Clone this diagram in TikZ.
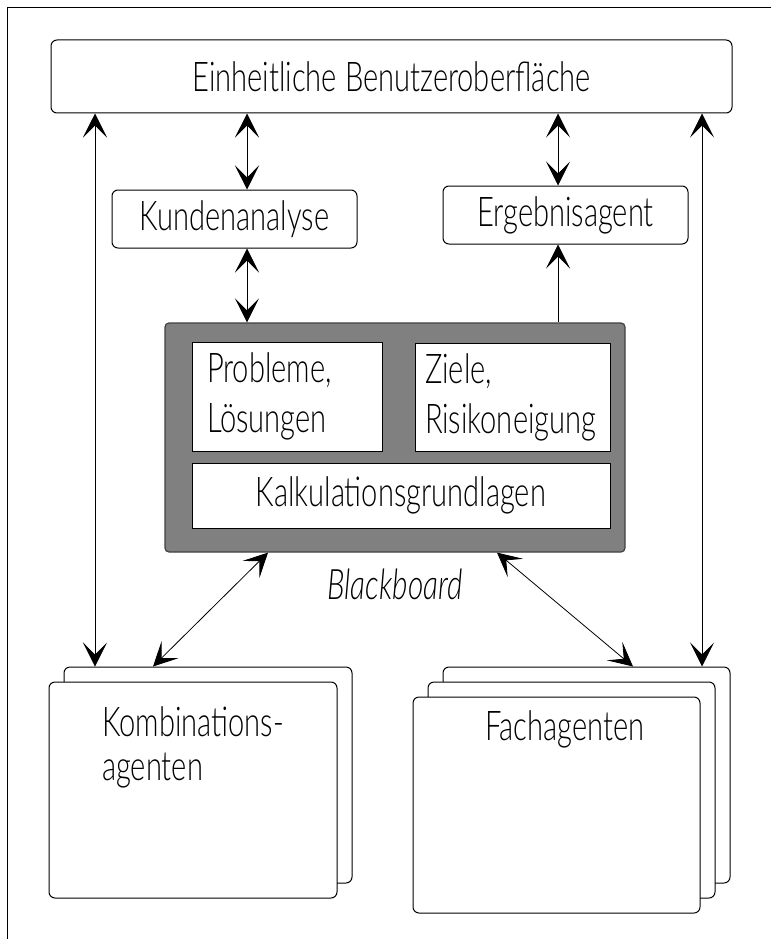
\documentclass[tikz,border=0pt]{standalone}
\usepackage{fontspec}
\setmainfont{Lato}[UprightFont=* Light, ItalicFont=* Light Italic, FakeStretch=0.71]
\usetikzlibrary{arrows.meta,positioning,calc}

\begin{document}
\begin{tikzpicture}[
  x=1pt,y=-1pt,
  font=\fontsize{41}{47}\selectfont,
  box/.style={draw,rounded corners=6pt,line width=1pt,fill=white,inner sep=0pt},
  pane/.style={draw,line width=1pt,fill=white,inner sep=0pt},
  agent/.style={box,minimum width=288pt,minimum height=216pt},
  arr/.style={{Stealth[length=24pt,width=24pt,inset=12pt]}-{Stealth[length=24pt,width=24pt,inset=12pt]},line width=0.8pt},
  arrone/.style={-{Stealth[length=24pt,width=24pt,inset=12pt]},line width=0.8pt}
]
\useasboundingbox (0,0) rectangle (771,939);
\draw[line width=0.8pt] (7,939) -- (7,7) -- (771,7);

\node[box,minimum width=681pt,minimum height=73pt] (ui) at (391.5,76.5) {Einheitliche Benutzeroberfläche};
\node[box,minimum width=245pt,minimum height=58pt] (kunde) at (234.5,219) {Kundenanalyse};
\node[box,minimum width=245pt,minimum height=58pt] (ergebnis) at (565.5,215) {Ergebnisagent};

% blackboard with its three panes
\node[draw=black!75,fill=black!50,rounded corners=4pt,line width=1.2pt,inner sep=0pt,
      minimum width=460pt,minimum height=229pt,
      label={[font=\fontsize{42}{47}\selectfont\itshape,inner sep=0pt,label distance=16pt]below:Blackboard}] (bb) at (395,437.5) {};
\node[pane,minimum width=190pt,minimum height=109pt,inner xsep=15pt,text width=160pt,align=left,
      font=\fontsize{41}{50}\selectfont] (prob) at (287,396.5) {Probleme,\\Lösungen};
\node[pane,minimum width=195pt,minimum height=108pt,inner xsep=10pt,text width=175pt,align=left,
      font=\fontsize{41}{50}\selectfont] (ziele) at (512.5,397) {Ziele,\\Risikoneigung};
\node[pane,minimum width=418pt,minimum height=65pt] (kalk) at (401,495.5) {Kalkulationsgrundlagen};

% stacked agent boxes
\node[agent] (kback) at (208,775) {};
\node[agent,label={[align=left,anchor=north,inner sep=0pt,yshift=-25pt,font=\fontsize{41}{44}\selectfont]north:Kombinations-\\agenten}]
      (kombi) at ($(kback.center)+(-15,15)$) {};
\node[agent,minimum width=287pt] (fback) at (586.5,775) {};
\node[agent,minimum width=287pt] (fmid) at ($(fback.center)+(-15,15)$) {};
\node[agent,minimum width=287pt,label={[anchor=north,inner sep=0pt,xshift=8.5pt,yshift=-14pt]north:Fachagenten}]
      (fach) at ($(fmid.center)+(-15,15)$) {};

\draw[arr] ([xshift=12.5pt]kunde.north) -- ([xshift=12.5pt]kunde.north |- ui.south);
\draw[arr] ([xshift=12.5pt]kunde.south) -- ([xshift=12.5pt]kunde.south |- bb.north);
\draw[arr] ([xshift=-7.5pt]ergebnis.north) -- ([xshift=-7.5pt]ergebnis.north |- ui.south);
\draw[arrone] ([xshift=-7.5pt]ergebnis.south |- bb.north) -- ([xshift=-7.5pt]ergebnis.south);
\draw[arr] ([xshift=-113pt]kback.north) -- ([xshift=-113pt]kback.north |- ui.south);
\draw[arr] ([xshift=115.5pt]fback.north) -- ([xshift=115.5pt]fback.north |- ui.south);
\draw[arr] ([xshift=-127pt]bb.south) -- ([xshift=-55pt]kback.north);
\draw[arr] ([xshift=102pt]bb.south) -- ([xshift=46.5pt]fback.north);
\end{tikzpicture}
\end{document}
